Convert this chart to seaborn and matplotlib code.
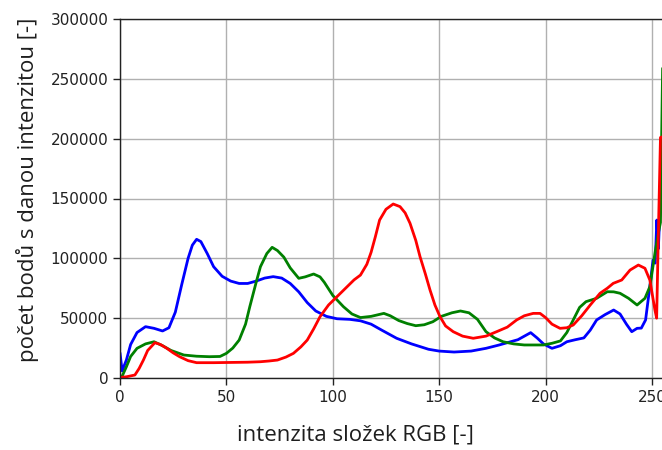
import numpy as np
import pandas as pd
import matplotlib
matplotlib.use("Agg")
import matplotlib.pyplot as plt
import seaborn as sns

# Histogram of RGB channel intensities (number of pixels per intensity level)
blue_x = [0, 1, 3, 5, 8, 12, 16, 20, 23, 26, 29, 32, 34, 36, 38, 41, 44, 48, 52, 56,
          60, 64, 68, 72, 76, 80, 84, 88, 92, 97, 102, 108, 113, 118, 123, 130, 137,
          145, 150, 157, 165, 172, 178, 182, 187, 193, 196, 199, 203, 207, 210, 214,
          218, 221, 224, 228, 232, 235, 238, 240.5, 243, 245, 247, 249, 250.5, 251.5,
          252.3, 253, 254, 255]
blue_y = [21000, 6000, 15000, 28000, 38000, 42900, 41500, 39300, 42000, 55000, 78000,
          100000, 111000, 115900, 114000, 104000, 93000, 85000, 81000, 79000, 79000,
          81000, 83500, 84700, 83500, 79000, 72000, 63000, 56000, 51500, 49500, 49000,
          47800, 45000, 40000, 33200, 28500, 24000, 22500, 21700, 22500, 24800, 27500,
          29500, 32000, 37900, 33500, 28500, 24800, 27000, 30300, 32000, 33500, 40000,
          48500, 53000, 56800, 53500, 45000, 38700, 41500, 41700, 48500, 76300, 98600,
          96000, 132000, 108000, 150000, 205000]

green_x = [0, 1, 3, 5, 8, 12, 16, 20, 24, 30, 36, 42, 47, 50, 53, 56, 59, 61, 64, 66,
           69, 71.5, 74, 77, 80, 84, 87, 91, 94, 96, 100, 105, 109, 113, 118, 124, 127,
           131, 135, 139, 143, 147, 151, 156, 160, 164, 168, 172, 176, 180, 185, 190,
           195, 199, 203, 207, 210, 213, 216, 219, 224, 229, 232, 235, 239, 243, 246.7,
           249, 251.4, 253, 254, 255]
green_y = [0, 1500, 9400, 18000, 24800, 28500, 30300, 27000, 23000, 19200, 18200, 17800,
           18000, 20600, 25000, 31700, 45000, 59600, 80000, 93000, 104000, 109200,
           106500, 101000, 92000, 83300, 84500, 86900, 84500, 80000, 69000, 59600, 53500,
           50500, 51500, 54000, 52000, 48000, 45500, 43700, 44500, 47000, 51500, 54500,
           56000, 54500, 49000, 38700, 33500, 30300, 28500, 27600, 27600, 27600, 29000,
           31000, 38000, 48500, 59000, 63800, 66600, 72100, 72000, 70800, 66600, 61000,
           66600, 76300, 104200, 121000, 130000, 258800]

red_x = [0, 3, 7, 9, 11, 13, 16.4, 19, 22, 25, 28, 32, 36, 44, 52, 60, 66, 70, 74, 78,
         81.5, 85, 88, 91, 94, 98, 102, 106, 110, 113, 116, 118, 120, 122, 125, 128.4,
         131.6, 134, 136.3, 139, 141, 143.5, 145.7, 148, 150.4, 153, 156.6, 161, 166,
         172, 177, 182, 186.4, 190, 194.2, 197.4, 200, 203, 206.8, 210, 213, 217, 221,
         225.6, 229, 231.8, 235.8, 239.7, 243.6, 246.7, 249, 251.4, 252.2, 253, 254, 255]
red_y = [500, 1000, 2500, 8000, 15000, 23000, 29500, 28000, 24800, 21000, 17800, 14500,
         12800, 12800, 13000, 13200, 13600, 14200, 15000, 17500, 20600, 26000, 31700,
         41000, 51200, 61000, 68000, 75000, 82000, 86000, 95000, 105000, 118000, 132000,
         141000, 145400, 143200, 138000, 129300, 115000, 101400, 87000, 73500, 61000,
         51200, 43500, 38700, 35000, 33200, 35000, 38700, 42500, 48500, 52000, 54000,
         54000, 50500, 45000, 41500, 42000, 44300, 52000, 61000, 70800, 75000, 79100,
         81900, 90200, 94400, 91700, 81900, 56800, 50000, 120000, 201000, 201600]

x_ticks = [0, 50, 100, 150, 200, 250]
y_ticks = [0, 50000, 100000, 150000, 200000, 250000, 300000]

sns.set_theme(style="ticks")
plt.rcParams["font.family"] = ["DejaVu Sans"]

W, H, DPI = 662, 450, 100
fig = plt.figure(figsize=(W / DPI, H / DPI), dpi=DPI)
left, right, bottom, top = 120, 662.6, 378, 19
ax_w, ax_h = right - left, bottom - top
ax = fig.add_axes([left / W, (H - bottom) / H, ax_w / W, ax_h / H])

series = [("b", blue_x, blue_y, "blue"),
          ("g", green_x, green_y, "green"),
          ("r", red_x, red_y, "red")]
for name, xs, ys, col in series:
    df = pd.DataFrame({"intenzita": xs, "pocet": ys})
    sns.lineplot(data=df, x="intenzita", y="pocet", color=col, linewidth=2,
                 ax=ax, sort=False, estimator=None)

ax.set_xlim(0, 255)
ax.set_ylim(0, 300000)
ax.set_xticks(x_ticks)
ax.set_yticks(y_ticks)
ax.ticklabel_format(style="plain", axis="y")
ax.grid(True, color="#b0b0b0", linewidth=1)
ax.set_axisbelow(True)
for s in ax.spines.values():
    s.set_color("#222222")
    s.set_linewidth(1)
ax.tick_params(axis="both", labelsize=11, colors="#222222", length=5, width=1)

label_font = dict(family="Open Sans", size=16, color="#1e1e1e")
ax.set_xlabel("intenzita složek RGB [-]", **label_font)
ax.set_ylabel("počet bodů s danou intenzitou [-]", **label_font)
ax.xaxis.set_label_coords((355 - left) / ax_w, (bottom - 425) / ax_h)
ax.yaxis.set_label_coords((39 - left) / ax_w, (bottom - 190) / ax_h)

fig.savefig("out.png", dpi=DPI)
